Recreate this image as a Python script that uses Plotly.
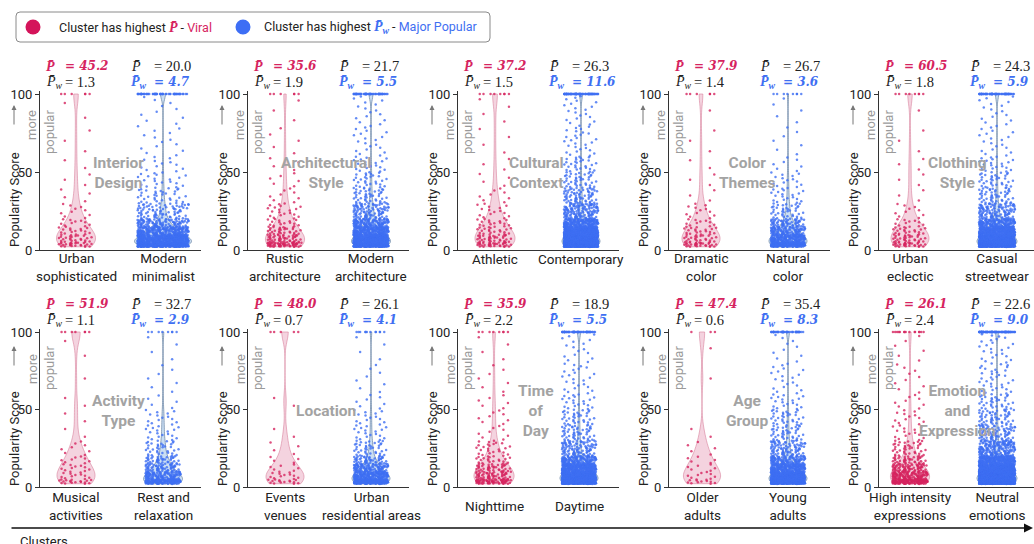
import plotly.graph_objects as go

# ---------------- data ----------------
groups = ["Interior\nDesign", "Architectural\nStyle", "Cultural\nContext", "Color\nThemes", "Clothing\nStyle",
          "Activity\nType", "Location", "Time\nof\nDay", "Age\nGroup", "Emotion\nand\nExpression"]
viral_clusters = ["Urban\nsophisticated", "Rustic\narchitecture", "Athletic", "Dramatic\ncolor", "Urban\neclectic",
                  "Musical\nactivities", "Events\nvenues", "Nighttime", "Older\nadults", "High intensity\nexpressions"]
popular_clusters = ["Modern\nminimalist", "Modern\narchitecture", "Contemporary", "Natural\ncolor", "Casual\nstreetwear",
                    "Rest and\nrelaxation", "Urban\nresidential areas", "Daytime", "Young\nadults", "Neutral\nemotions"]

P_viral = [45.2, 35.6, 37.2, 37.9, 60.5, 51.9, 48.0, 35.9, 47.4, 26.1]
Pw_viral = [1.3, 1.9, 1.5, 1.4, 1.8, 1.1, 0.7, 2.2, 0.6, 2.4]
P_popular = [20.0, 21.7, 26.3, 26.7, 24.3, 32.7, 26.1, 18.9, 35.4, 22.6]
Pw_popular = [4.7, 5.5, 11.6, 3.6, 5.9, 2.9, 4.1, 5.5, 8.3, 9.0]

# popularity-score bins (lower/upper edges) and estimated point counts per bin; last entry = posts scoring 100
bin_edges = [2, 5, 10, 15, 20, 30, 40, 50, 60, 80, 99]
viral_counts = [
    [25, 25, 15, 10, 10, 4, 3, 2, 3, 2, 6],
    [60, 45, 30, 15, 20, 8, 6, 4, 5, 3, 6],
    [35, 35, 20, 15, 15, 8, 4, 3, 4, 4, 8],
    [30, 25, 18, 10, 12, 3, 3, 2, 3, 1, 6],
    [30, 30, 20, 10, 10, 3, 3, 3, 3, 1, 8],
    [18, 12, 10, 8, 8, 2, 2, 2, 1, 2, 7],
    [15, 12, 6, 4, 4, 2, 0, 2, 0, 0, 5],
    [70, 55, 40, 20, 25, 8, 8, 6, 7, 4, 8],
    [12, 8, 6, 5, 5, 2, 0, 0, 1, 1, 3],
    [150, 120, 70, 40, 40, 15, 12, 8, 10, 6, 15],
]
popular_counts = [
    [450, 400, 200, 100, 80, 35, 20, 12, 14, 10, 60],
    [400, 350, 200, 120, 100, 45, 28, 18, 20, 15, 60],
    [700, 600, 350, 180, 140, 70, 40, 28, 28, 20, 80],
    [200, 180, 100, 60, 40, 20, 14, 7, 7, 5, 8],
    [600, 500, 280, 150, 120, 50, 35, 20, 20, 16, 70],
    [150, 110, 60, 40, 35, 18, 14, 5, 7, 4, 8],
    [220, 180, 100, 50, 40, 18, 14, 7, 8, 4, 12],
    [500, 450, 250, 130, 100, 50, 35, 20, 24, 16, 60],
    [450, 380, 200, 110, 90, 42, 32, 18, 20, 10, 50],
    [900, 750, 450, 250, 180, 85, 55, 35, 35, 24, 90],
]


def expand_bins(counts):
    """Scores of each bin, spread evenly over the bin (one list per bin, last = the 100s)."""
    out = []
    for i in range(len(bin_edges) - 1):
        lo, hi, n = bin_edges[i], bin_edges[i + 1], counts[i]
        out.append([lo + (k + 0.5) * (hi - lo) / n for k in range(n)])
    out.append([100] * counts[-1])
    return out


# ---------------- layout geometry (pixels) ----------------
W, H = 1034, 544
def px(x): return x / W
def py(y): return 1 - y / H

axis_start = [40, 248, 458, 669, 879]
pink_c = [[76, 285, 495, 701, 910], [76, 285, 494, 702, 910]]
blue_c = [[163, 371, 581, 788, 997], [163, 371, 579, 788, 997]]
row_y0 = [250, 487]
row_y100 = [94, 332]
row_line1 = [66, 304]
row_line2 = [82, 320]
row_cat1 = [259, 498]
row_cat_single = [259, 506]
row_group = [173, 411]
viol_w = [[39, 57], [39, 39], [40, 38], [38, 38], [38, 40], [38, 39], [38, 38], [40, 38], [37, 38], [39, 40]]

PINK = "#d6245f"
BLUE = "#3f6ff2"
SANS = "Roboto"
SERIF = "DejaVu Serif"
PSYM = "Liberation Serif"

fig = go.Figure()
layout = dict(width=W, height=H, autosize=False, margin=dict(l=0, r=0, t=0, b=0, autoexpand=False),
              paper_bgcolor="white", plot_bgcolor="white", showlegend=False, violinmode="overlay")
ann = []
shapes = []

for p in range(10):
    r, c = divmod(p, 5)
    n = p + 1
    xa = "x" if n == 1 else f"x{n}"
    ya = "y" if n == 1 else f"y{n}"
    a = axis_start[c]
    e = min(a + 161, W)
    p0, p1 = pink_c[r][c], blue_c[r][c]
    s = p1 - p0
    y0, y100 = row_y0[r], row_y100[r]
    ytop = y100 - 2 * (y0 - y100) / 100
    layout["xaxis" if n == 1 else f"xaxis{n}"] = dict(
        domain=[px(a), px(e)], range=[(a - p0) / s, (e - p0) / s], anchor=ya, automargin=False,
        showline=True, linecolor="#333", linewidth=1.2, showticklabels=False, ticks="",
        showgrid=False, zeroline=False)
    layout["yaxis" if n == 1 else f"yaxis{n}"] = dict(
        domain=[py(y0), py(ytop)], range=[0, 102], anchor=xa, automargin=False,
        showline=True, linecolor="#333", linewidth=1.2, ticks="outside", ticklen=4, tickwidth=1.2,
        tickcolor="#333", tickvals=[0, 50, 100], tickfont=dict(family=SANS, size=13, color="#222"),
        showgrid=False, zeroline=False)

    specs = [(viral_counts[p], "rgba(226,140,170,0.38)", "rgba(214,120,150,0.55)", PINK, viol_w[p][0], 6),
             (popular_counts[p], "rgba(150,190,232,0.5)", "rgba(110,135,165,0.75)", BLUE, viol_w[p][1], 3.5)]
    # violin bodies
    for k, (counts, fill, lc, mc, wpx, bw) in enumerate(specs):
        allv = [v for b in expand_bins(counts) for v in b]
        fig.add_trace(go.Violin(
            x0=k, y=allv, xaxis=xa, yaxis=ya, width=wpx / s, scalemode="width",
            spanmode="hard", bandwidth=bw, points=False, fillcolor=fill, line=dict(color=lc, width=1),
            box_visible=False, meanline_visible=False, hoverinfo="skip"))
    # jittered points (one strip per score bin so jitter spans the full width everywhere)
    for k, (counts, fill, lc, mc, wpx, bw) in enumerate(specs):
        for vals in expand_bins(counts):
            if not vals:
                continue
            fig.add_trace(go.Violin(
                x0=k, y=vals, xaxis=xa, yaxis=ya, width=wpx / s, scalemode="width", spanmode="hard",
                points="all", jitter=0.9, pointpos=0, fillcolor="rgba(0,0,0,0)",
                line=dict(color="rgba(0,0,0,0)", width=0), box_visible=False, meanline_visible=False,
                marker=dict(size=2.5, color=mc, opacity=0.8, line=dict(width=0)), hoveron="points"))

    # P-bar annotations
    def add_txt(x, y, text, color="#222", size=13, family=SERIF):
        ann.append(dict(x=px(x), y=py(y), xref="paper", yref="paper", xanchor="left", yanchor="middle",
                        text=text, showarrow=False, font=dict(family=family, size=size, color=color)))
    add_txt(a + 4, row_line1[r], "<b><i>P\u0304</i></b>", PINK, 14, PSYM)
    add_txt(a + 23, row_line1[r], f"<b><i>= {P_viral[p]:.1f}</i></b>", PINK, 12, SERIF)
    add_txt(a + 4, row_line2[r], "<i>P\u0304<sub>w</sub></i>", "#222", 14, PSYM)
    add_txt(a + 23, row_line2[r], f"= {Pw_viral[p]:.1f}", "#222", 14.5, PSYM)
    add_txt(a + 89, row_line1[r], "<i>P\u0304</i>", "#222", 14, PSYM)
    add_txt(a + 112, row_line1[r], f"= {P_popular[p]:.1f}", "#222", 14.5, PSYM)
    add_txt(a + 89, row_line2[r], "<b><i>P\u0304<sub>w</sub></i></b>", BLUE, 14, PSYM)
    add_txt(a + 112, row_line2[r], f"<b><i>= {Pw_popular[p]:.1f}</i></b>", BLUE, 12, SERIF)

    # category labels
    for k, lab in enumerate([viral_clusters[p], popular_clusters[p]]):
        lines = lab.split("\n")
        ycat = row_cat1[r] + 7.5 if len(lines) > 1 else row_cat_single[r]
        ann.append(dict(x=k, y=py(ycat), xref=xa, yref="paper", xanchor="center", yanchor="middle",
                        text="<br>".join(lines), showarrow=False,
                        font=dict(family=SANS, size=13.5, color="#222")))

    # group watermark
    ann.append(dict(x=px(a + 78), y=py(row_group[r]), xref="paper", yref="paper", xanchor="center",
                    yanchor="middle", text="<b>" + "<br>".join(groups[p].split("\n")) + "</b>",
                    showarrow=False, font=dict(family=SANS, size=15.5, color="#a3a3a3")))

    # y title + arrow + "more popular"
    ann.append(dict(x=px(a - 26), y=py(row_y0[r] - 50 + (0 if r == 0 else 2)), xref="paper", yref="paper",
                    xanchor="center", yanchor="middle", text="Popularity Score", textangle=-90,
                    showarrow=False, font=dict(family=SANS, size=13, color="#222")))
    arr_top = [105, 346][r]
    ann.append(dict(x=px(a - 26), y=py(arr_top), xref="paper", yref="paper", ax=0, ay=21, text="",
                    showarrow=True, arrowhead=2, arrowsize=1, arrowwidth=1, arrowcolor="#777"))
    more_y = [125, 369][r]
    pop_y = [132, 368][r]
    ann.append(dict(x=px(a - 8), y=py(more_y), xref="paper", yref="paper", xanchor="center", yanchor="middle",
                    text="more", textangle=-90, showarrow=False, font=dict(family=SANS, size=13, color="#9a9a9a")))
    ann.append(dict(x=px(a + 9), y=py(pop_y), xref="paper", yref="paper", xanchor="center", yanchor="middle",
                    text="popular", textangle=-90, showarrow=False, font=dict(family=SANS, size=13, color="#9a9a9a")))

# bottom arrow + "Clusters"
ann.append(dict(x=px(1033), y=py(528), xref="paper", yref="paper", ax=-1023, ay=0, text="", showarrow=True,
                arrowhead=2, arrowsize=1.2, arrowwidth=1.5, arrowcolor="#111"))
ann.append(dict(x=px(18), y=py(541), xref="paper", yref="paper", xanchor="left", yanchor="middle",
                text="Clusters", showarrow=False, font=dict(family=SANS, size=13, color="#222")))

# legend box
x0, x1, y0_, y1_, rr = 16, 490, 12, 42, 4
path = (f"M {px(x0+rr)},{py(y0_)} L {px(x1-rr)},{py(y0_)} Q {px(x1)},{py(y0_)} {px(x1)},{py(y0_+rr)} "
        f"L {px(x1)},{py(y1_-rr)} Q {px(x1)},{py(y1_)} {px(x1-rr)},{py(y1_)} L {px(x0+rr)},{py(y1_)} "
        f"Q {px(x0)},{py(y1_)} {px(x0)},{py(y1_-rr)} L {px(x0)},{py(y0_+rr)} Q {px(x0)},{py(y0_)} {px(x0+rr)},{py(y0_)} Z")
shapes.append(dict(type="path", path=path, xref="paper", yref="paper", line=dict(color="#8a8a8a", width=1),
                   fillcolor="white"))
for cx, col in [(33, "#d4145a"), (243, "#3d6ef5")]:
    shapes.append(dict(type="circle", xref="paper", yref="paper", x0=px(cx - 7.5), x1=px(cx + 7.5),
                       y0=py(27 + 7.5), y1=py(27 - 7.5), fillcolor=col, line=dict(width=0)))
ann.append(dict(x=px(57), y=py(27), xref="paper", yref="paper", xanchor="left", yanchor="middle", showarrow=False,
                text=(f"Cluster has highest <span style='font-family:{PSYM};font-size:14px;color:{PINK}'><b><i>P\u0304</i></b></span>"
                      f" - <span style='color:{PINK}'>Viral</span>"),
                font=dict(family=SANS, size=12.5, color="#222")))
ann.append(dict(x=px(262), y=py(27), xref="paper", yref="paper", xanchor="left", yanchor="middle", showarrow=False,
                text=(f"Cluster has highest <span style='font-family:{PSYM};font-size:14px;color:{BLUE}'><b><i>P\u0304<sub>w</sub></i></b></span>"
                      f" - <span style='color:{BLUE}'>Major Popular</span>"),
                font=dict(family=SANS, size=12.5, color="#222")))

layout["annotations"] = ann
layout["shapes"] = shapes
fig.update_layout(**layout)
fig.write_html("out.html", config={"displayModeBar": False, "responsive": False})

# remove default page margins so the 1034x544 figure fills the window exactly
with open("out.html", encoding="utf-8") as f:
    html = f.read()
html = html.replace("<head>", "<head><style>html,body{margin:0;padding:0;overflow:hidden}</style>", 1)
with open("out.html", "w", encoding="utf-8") as f:
    f.write(html)
